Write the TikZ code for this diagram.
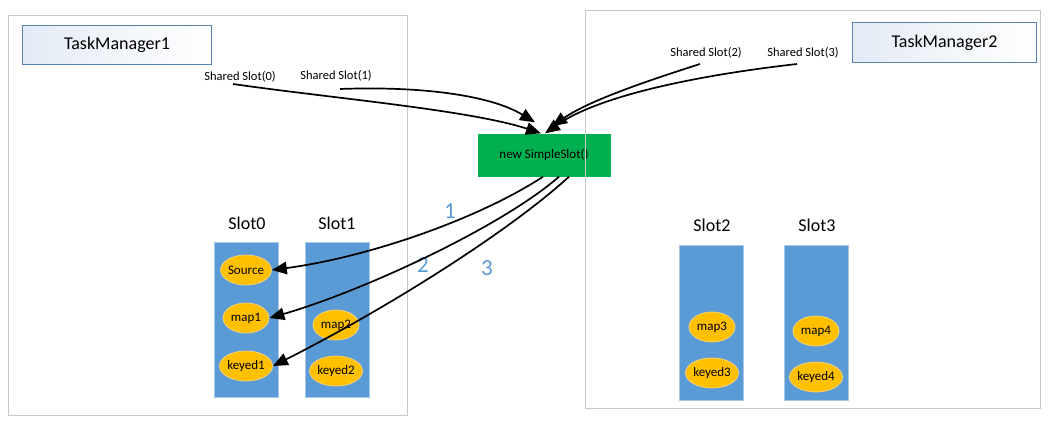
\documentclass[tikz,border=0pt]{standalone}
\usepackage{fontspec}
\setmainfont{Carlito}
\usetikzlibrary{shapes.geometric,arrows.meta,calc}
\definecolor{outergray}{HTML}{C8C8C8}
\definecolor{tmblue}{HTML}{5A80B8}
\definecolor{tmfill}{HTML}{E4EBF5}
\definecolor{slotblue}{HTML}{5B9BD5}
\definecolor{slotedge}{HTML}{A8C6E6}
\definecolor{opgold}{HTML}{FFC000}
\definecolor{opedge}{HTML}{F7D37A}
\definecolor{ggreen}{HTML}{00B050}
\definecolor{numblue}{HTML}{5B9BD5}
\tikzset{
  outerbox/.style={draw=outergray, line width=1.4pt, anchor=north west, inner sep=0pt},
  tmbox/.style={draw=tmblue, line width=1pt, left color=tmfill, right color=white, anchor=north west, inner sep=0pt, font=\fontsize{18}{21}\selectfont},
  slotbox/.style={draw=slotedge, line width=0.8pt, fill=slotblue, anchor=north west, minimum width=64pt, minimum height=155pt, inner sep=0pt},
  slotlabel/.style={font=\fontsize{18}{21}\selectfont},
  op/.style={ellipse, draw=opedge, line width=0.8pt, fill=opgold, minimum width=46pt, minimum height=30pt, inner sep=0pt, font=\fontsize{13}{15}\selectfont},
  sslabel/.style={font=\fontsize{12.5}{14}\selectfont},
  numlabel/.style={text=numblue, font=\fontsize{23}{26}\selectfont},
  conn/.style={line width=1.7pt, -{Triangle[length=15pt,width=12.5pt]}}
}
\begin{document}
\begin{tikzpicture}[x=1pt,y=-1pt]
\useasboundingbox (0,0) rectangle (1052,421);
% TaskManager1
\node[outerbox, minimum width=399pt, minimum height=400pt] (tm1) at (8,15) {};
\node[tmbox, minimum width=189pt, minimum height=39pt] (tm1lab) at (22,25) {TaskManager1};
\node[sslabel] (ss0) at (240,77) {Shared Slot(0)};
\node[sslabel] (ss1) at (336,76) {Shared Slot(1)};
% slots in TM1
\node[slotbox] (slot0) at (214,242) {};
\node[slotbox] (slot1) at (305,242) {};
\node[slotlabel] (slot0lab) at (247,223) {Slot0};
\node[slotlabel] (slot1lab) at (337,223) {Slot1};
\node[op] (src) at (246,270) {Source};
\node[op] (map1) at (246,318) {map1};
\node[op] (keyed1) at (246,366) {keyed1};
\node[op] (map2) at (336,325) {map2};
\node[op] (keyed2) at (336,371) {keyed2};
% green
\node[fill=ggreen, minimum width=133pt, minimum height=43pt, inner sep=0pt, font=\fontsize{13}{15}\selectfont] (green) at (544,155) {new SimpleSlot()};
% TaskManager2
\node[outerbox, minimum width=455pt, minimum height=398pt] (tm2) at (585,10) {};
\node[tmbox, minimum width=184pt, minimum height=40pt] (tm2lab) at (852,22) {TaskManager2};
\node[sslabel] (ss2) at (706,53) {Shared Slot(2)};
\node[sslabel] (ss3) at (803,53) {Shared Slot(3)};
\node[slotbox] (slot2) at (679,245) {};
\node[slotbox] (slot3) at (784,245) {};
\node[slotlabel] (slot2lab) at (712,225) {Slot2};
\node[slotlabel] (slot3lab) at (817,225) {Slot3};
\node[op] (map3) at (712,327) {map3};
\node[op] (keyed3) at (712,373) {keyed3};
\node[op] (map4) at (816,331) {map4};
\node[op] (keyed4) at (816,377) {keyed4};
% numbers
\node[numlabel] (n1) at (450,211) {1};
\node[numlabel] (n2) at (423,265) {2};
\node[numlabel] (n3) at (487,268) {3};
% connector ends
\coordinate (s0) at (233,84);
\coordinate (s1) at (340,89);
\coordinate (s2) at (700,64);
\coordinate (s3) at (797,64);
\coordinate (t0) at ($(green.north)+(-3,0)$);
\coordinate (t1) at ($(green.north)+(-9,-11)$);
\coordinate (t2) at ($(green.north)+(8,-7)$);
\coordinate (t3) at ($(green.north)+(1,0)$);
% incoming curves
\draw[conn] (s0) .. controls (330,98) and (470,110) .. (t0);
\draw[conn] (s1) .. controls (420,86) and (490,95) .. (t1);
\draw[conn] (s2) .. controls (650,80) and (590,100) .. (t2);
\draw[conn] (s3) .. controls (700,75) and (600,95) .. (t3);
% outgoing curves
\draw[conn] ($(green.south)+(-1,0)$) .. controls (480,218) and (370,257) .. (src.east);
\draw[conn] ($(green.south)+(15,0)$) .. controls (500,228) and (360,292) .. (map1.east);
\draw[conn] ($(green.south)+(25,0)$) .. controls (505,235) and (380,312) .. (keyed1.east);
\end{tikzpicture}
\end{document}
